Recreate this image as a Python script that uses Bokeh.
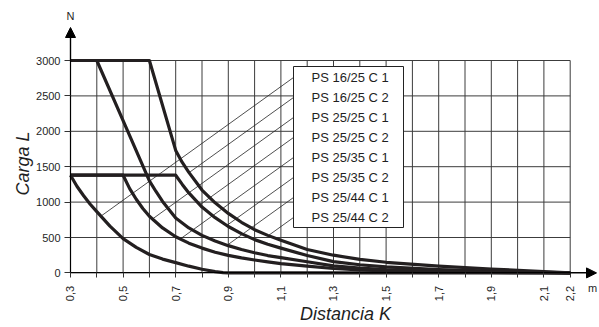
import numpy as np
from bokeh.plotting import figure
from bokeh.models import FixedTicker, Arrow, NormalHead, Label, ColumnDataSource
from bokeh.core.properties import value
from bokeh.embed import file_html
from bokeh.resources import INLINE

# ---------------- data ----------------
x_ticks = [0.3, 0.4, 0.5, 0.6, 0.7, 0.8, 0.9, 1.0, 1.1, 1.2, 1.3, 1.4, 1.5,
           1.6, 1.7, 1.8, 1.9, 2.0, 2.1, 2.2]
x_tick_labels = ["0,3", "", "0,5", "", "0,7", "", "0,9", "", "1,1", "", "1,3", "",
                 "1,5", "", "1,7", "", "1,9", "", "2,1", "2,2"]
y_ticks = [0, 500, 1000, 1500, 2000, 2500, 3000]
y_tick_labels = ["0", "500", "1000", "1500", "2000", "2500", "3000"]

# curve B (upper 3000 curve, longest plateau)
b_x = [0.3, 0.6, 0.7, 0.725, 0.75, 0.8, 0.85, 0.9, 0.95, 1.0, 1.05, 1.1, 1.2, 1.3,
       1.4, 1.5, 1.7, 1.9, 2.1, 2.2]
b_y = [3000, 3000, 1730, 1560, 1420, 1170, 990, 840, 715, 610, 530, 460, 330, 250,
       190, 150, 95, 55, 20, 0]
# curve A (3000 curve, short plateau)
a_x = [0.3, 0.4, 0.5, 0.6, 0.625, 0.65, 0.7, 0.75, 0.8, 0.85, 0.9, 0.95, 1.0, 1.05,
       1.1, 1.2, 1.3, 1.4, 1.5, 1.7, 1.9, 2.1, 2.2]
a_y = [3000, 3000, 2150, 1300, 1150, 1010, 775, 635, 530, 450, 385, 330, 285, 245,
       215, 158, 100, 68, 48, 25, 11, 3, 0]
# curve C (1380 curve, long plateau)
c_x = [0.3, 0.7, 0.725, 0.75, 0.8, 0.85, 0.9, 0.95, 1.0, 1.05, 1.1, 1.2, 1.3, 1.4,
       1.5, 1.7, 1.9, 2.1, 2.2]
c_y = [1380, 1380, 1250, 1130, 930, 780, 655, 555, 470, 405, 350, 245, 160, 115,
       85, 48, 24, 8, 0]
# curve D (1380 curve, short plateau)
d_x = [0.3, 0.5, 0.525, 0.55, 0.575, 0.6, 0.65, 0.7, 0.75, 0.8, 0.85, 0.9, 0.95,
       1.0, 1.05, 1.1, 1.2, 1.3, 1.4, 1.5, 1.7, 1.9, 2.1, 2.2]
d_y = [1380, 1380, 1190, 1040, 910, 800, 635, 510, 420, 350, 292, 248, 212,
       182, 155, 132, 95, 62, 41, 27, 13, 6, 2, 0]
# curve E (1380 curve, no plateau)
e_x = [0.3, 0.325, 0.35, 0.375, 0.4, 0.45, 0.5, 0.55, 0.6, 0.65, 0.7, 0.75, 0.8,
       0.85, 0.88, 0.9, 2.2]
e_y = [1380, 1220, 1090, 970, 865, 660, 485, 360, 260, 195, 145, 95, 52,
       18, 4, 0, 0]

legend_labels = ["PS 16/25 C 1", "PS 16/25 C 2", "PS 25/25 C 1", "PS 25/25 C 2",
                 "PS 25/35 C 1", "PS 25/35 C 2", "PS 25/44 C 1", "PS 25/44 C 2"]
legend_targets = ["E", "B", "D", "C", "D", "C", "A", "B"]

curves = {"A": (a_x, a_y), "B": (b_x, b_y), "C": (c_x, c_y), "D": (d_x, d_y), "E": (e_x, e_y)}

# ---------------- geometry ----------------
W, H = 599, 327
X0_PX, Y0_PX = 70.0, 272.4          # page pixel of (0.3, 0)
PX_PER_X = 263.0
PX_PER_Y = 212.4 / 3000.0

def px_x(px):
    return x_ticks[0] + (px - X0_PX) / PX_PER_X

def px_y(py):
    return (Y0_PX - py) / PX_PER_Y

TXT = "#1f1f1f"
FONT = "Liberation Sans"

p = figure(width=W, height=H, x_range=(px_x(0), px_x(W)), y_range=(px_y(H), px_y(0)),
           output_backend="svg", toolbar_location=None,
           min_border_left=0, min_border_right=0, min_border_top=0, min_border_bottom=0)
p.xgrid.visible = False
p.ygrid.visible = False
p.outline_line_color = None
p.background_fill_color = "white"
p.border_fill_color = "white"

# axes crossing at (0.3, 0)
p.xaxis.fixed_location = 0
p.yaxis.fixed_location = x_ticks[0]
p.xaxis.bounds = (x_ticks[0], px_x(590))
p.yaxis.bounds = (0, px_y(32))
p.xaxis.ticker = FixedTicker(ticks=x_ticks)
p.xaxis.major_label_overrides = {t: l for t, l in zip(x_ticks, x_tick_labels)}
p.xaxis.major_label_orientation = np.pi / 2
p.xaxis.major_label_standoff = 8
p.yaxis.ticker = FixedTicker(ticks=y_ticks)
p.yaxis.major_label_overrides = {t: l for t, l in zip(y_ticks, y_tick_labels)}
p.yaxis.major_label_standoff = 4
for ax in (p.xaxis, p.yaxis):
    ax.axis_line_color = "black"
    ax.axis_line_width = 1.2
    ax.major_tick_line_color = "#333333"
    ax.major_tick_in = 0
    ax.minor_tick_line_color = None
    ax.major_label_text_font = FONT
    ax.major_label_text_font_size = "11px"
    ax.major_label_text_color = TXT
p.xaxis.major_tick_out = 5
p.yaxis.major_tick_out = 6

# grid lines
gx = x_ticks
p.segment(x0=gx, y0=[y_ticks[0]] * len(gx), x1=gx, y1=[y_ticks[-1]] * len(gx),
          line_color="#3c3c3c", line_width=1)
p.segment(x0=[x_ticks[0]] * len(y_ticks), y0=y_ticks, x1=[x_ticks[-1]] * len(y_ticks),
          y1=y_ticks, line_color="#3c3c3c", line_width=1)

# legend box geometry
lg_left, lg_right = px_x(293), px_x(403)
lg_top, lg_bottom = px_y(66), px_y(227)
row_h = 20 / PX_PER_Y
row_y = [lg_top - (k + 0.55) * row_h for k in range(len(legend_labels))]

# leader lines: parallel lines from legend edge down-left to target curve
slope = 0.72 * PX_PER_X / PX_PER_Y
xs = np.linspace(lg_left, x_ticks[0], 4000)
lx0, ly0 = [], []
for ry, tgt in zip(row_y, legend_targets):
    cx, cy = curves[tgt]
    line = ry - slope * (lg_left - xs)
    cur = np.interp(xs, cx, cy)
    idx = np.where(line - cur <= 0)[0]
    i = idx[0] if len(idx) else len(xs) - 1
    lx0.append(xs[i])
    ly0.append(cur[i])
p.segment(x0=lx0, y0=ly0, x1=[lg_left] * len(row_y), y1=row_y,
          line_color="#222222", line_width=0.8)

p.quad(left=[lg_left], right=[lg_right], top=[lg_top], bottom=[lg_bottom],
       fill_color="white", line_color="#222222", line_width=1)
src = ColumnDataSource(dict(x=[px_x(311)] * len(legend_labels), y=row_y, t=legend_labels))
p.text(x="x", y="y", text="t", source=src, text_font=value(FONT), text_font_size="13px",
       text_baseline="middle", text_align="left", text_color=TXT)

# curves
for key in ["E", "D", "C", "A", "B"]:
    cx, cy = curves[key]
    p.line(cx, cy, line_color="#231f20", line_width=3.2, line_join="round")

# axis arrows
head = dict(size=10, fill_color="black", line_color="black")
p.add_layout(Arrow(end=NormalHead(**head), x_start=x_ticks[0], y_start=y_ticks[-1],
                   x_end=x_ticks[0], y_end=px_y(27), line_color="black", line_width=1.2))
p.add_layout(Arrow(end=NormalHead(**head), x_start=x_ticks[-1], y_start=0,
                   x_end=px_x(596), y_end=0, line_color="black", line_width=1.2))

# titles and units
p.add_layout(Label(x=px_x(22), y=px_y(163), text="Carga L", angle=np.pi / 2,
                   text_align="center", text_baseline="middle", text_font=FONT,
                   text_font_style="italic", text_font_size="18px", text_color=TXT))
p.add_layout(Label(x=px_x(345), y=px_y(313), text="Distancia K",
                   text_align="center", text_baseline="middle", text_font=FONT,
                   text_font_style="italic", text_font_size="18px", text_color=TXT))
p.add_layout(Label(x=px_x(70), y=px_y(15), text="N", text_align="center",
                   text_baseline="middle", text_font=FONT, text_font_size="11px",
                   text_color=TXT))
p.add_layout(Label(x=px_x(592), y=px_y(287), text="m", text_align="center",
                   text_baseline="middle", text_font=FONT, text_font_size="11px",
                   text_color=TXT))

open("out.html", "w").write(file_html(p, INLINE))
